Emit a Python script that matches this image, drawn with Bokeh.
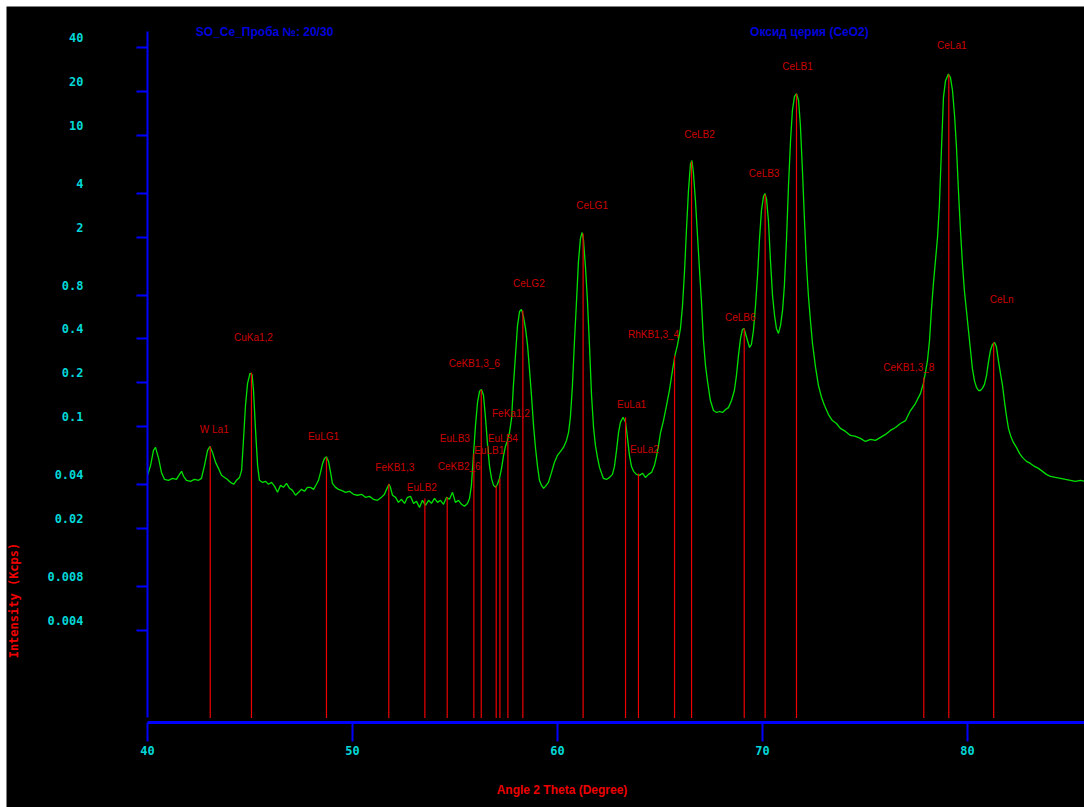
from bokeh.plotting import figure
from bokeh.models import (Range1d, FixedTicker, ColumnDataSource, LabelSet, Label,
                          CustomJSTickFormatter)
from bokeh.embed import file_html
from bokeh.resources import INLINE
from bokeh.core.properties import value

# ---------------- data ----------------
two_theta = [
    40.00, 40.15, 40.29, 40.39, 40.54, 40.68, 40.83, 41.02, 41.22, 41.41,
    41.56, 41.66, 41.76, 41.90, 42.10, 42.29, 42.49, 42.63, 42.78, 42.93,
    43.05, 43.17, 43.32, 43.46, 43.61, 43.76, 43.90, 44.05, 44.20, 44.34,
    44.49, 44.59, 44.68, 44.78, 44.88, 45.00, 45.10, 45.17, 45.27, 45.37,
    45.46, 45.61, 45.76, 45.90, 46.05, 46.20, 46.34, 46.49, 46.63, 46.78,
    46.93, 47.07, 47.22, 47.37, 47.51, 47.66, 47.80, 47.95, 48.10, 48.24,
    48.34, 48.44, 48.54, 48.63, 48.73, 48.83, 48.93, 49.02, 49.17, 49.32,
    49.46, 49.66, 49.85, 50.05, 50.24, 50.44, 50.63, 50.83, 51.02, 51.22,
    51.41, 51.56, 51.66, 51.78, 51.85, 51.95, 52.10, 52.24, 52.39, 52.54,
    52.68, 52.83, 52.98, 53.12, 53.27, 53.41, 53.56, 53.71, 53.85, 54.00,
    54.15, 54.29, 54.44, 54.59, 54.73, 54.88, 55.02, 55.17, 55.32, 55.46,
    55.61, 55.71, 55.80, 55.90, 56.00, 56.10, 56.20, 56.29, 56.39, 56.49,
    56.59, 56.68, 56.78, 56.88, 56.98, 57.07, 57.17, 57.27, 57.37, 57.46,
    57.56, 57.66, 57.76, 57.85, 57.95, 58.05, 58.15, 58.24, 58.34, 58.44,
    58.54, 58.63, 58.73, 58.83, 58.93, 59.02, 59.12, 59.22, 59.32, 59.41,
    59.56, 59.71, 59.85, 60.00, 60.15, 60.29, 60.44, 60.54, 60.63, 60.73,
    60.83, 60.93, 61.02, 61.12, 61.20, 61.27, 61.37, 61.46, 61.56, 61.66,
    61.76, 61.85, 61.95, 62.05, 62.15, 62.24, 62.39, 62.54, 62.68, 62.78,
    62.88, 62.98, 63.07, 63.20, 63.32, 63.41, 63.51, 63.61, 63.71, 63.85,
    64.00, 64.15, 64.29, 64.44, 64.59, 64.73, 64.83, 64.93, 65.02, 65.17,
    65.32, 65.46, 65.61, 65.73, 65.85, 66.00, 66.10, 66.20, 66.29, 66.39,
    66.49, 66.56, 66.63, 66.73, 66.83, 66.93, 67.02, 67.12, 67.22, 67.32,
    67.46, 67.61, 67.76, 67.90, 68.05, 68.20, 68.34, 68.49, 68.63, 68.73,
    68.83, 68.93, 69.02, 69.10, 69.17, 69.27, 69.37, 69.46, 69.56, 69.66,
    69.76, 69.85, 69.95, 70.05, 70.12, 70.20, 70.29, 70.39, 70.49, 70.59,
    70.68, 70.78, 70.88, 70.98, 71.07, 71.17, 71.27, 71.37, 71.46, 71.56,
    71.66, 71.76, 71.85, 71.95, 72.05, 72.15, 72.24, 72.34, 72.44, 72.59,
    72.73, 72.88, 73.02, 73.22, 73.41, 73.61, 73.80, 74.05, 74.29, 74.54,
    74.78, 75.02, 75.27, 75.51, 75.76, 76.00, 76.24, 76.49, 76.73, 76.98,
    77.22, 77.46, 77.71, 77.85, 77.95, 78.05, 78.15, 78.24, 78.34, 78.44,
    78.54, 78.63, 78.73, 78.83, 78.93, 79.07, 79.17, 79.27, 79.37, 79.46,
    79.56, 79.66, 79.76, 79.85, 79.95, 80.05, 80.15, 80.24, 80.34, 80.44,
    80.54, 80.63, 80.73, 80.83, 80.93, 81.02, 81.12, 81.22, 81.32, 81.41,
    81.51, 81.61, 81.71, 81.80, 81.90, 82.00, 82.10, 82.24, 82.39, 82.54,
    82.68, 82.88, 83.07, 83.27, 83.46, 83.66, 83.85, 84.05, 84.29, 84.54,
    84.78, 85.02, 85.27, 85.51, 85.75,
]
intensity_kcps = [
    0.0463, 0.0542, 0.0687, 0.0720, 0.0605, 0.0485, 0.0434, 0.0428, 0.0441, 0.0434,
    0.0470, 0.0493, 0.0456, 0.0428, 0.0421, 0.0434, 0.0428, 0.0441, 0.0542, 0.0687,
    0.0731, 0.0665, 0.0568, 0.0517, 0.0463, 0.0448, 0.0434, 0.0414, 0.0402, 0.0428,
    0.0448, 0.0501, 0.0804, 0.140, 0.198, 0.232, 0.228, 0.177, 0.0942, 0.0542,
    0.0428, 0.0414, 0.0421, 0.0402, 0.0414, 0.0389, 0.0354, 0.0395, 0.0383, 0.0408,
    0.0377, 0.0365, 0.0338, 0.0354, 0.0371, 0.0360, 0.0383, 0.0383, 0.0371, 0.0402,
    0.0428, 0.0485, 0.0559, 0.0605, 0.0620, 0.0577, 0.0485, 0.0408, 0.0383, 0.0371,
    0.0365, 0.0354, 0.0360, 0.0343, 0.0338, 0.0343, 0.0327, 0.0332, 0.0317, 0.0312,
    0.0327, 0.0343, 0.0371, 0.0402, 0.0383, 0.0338, 0.0327, 0.0302, 0.0317, 0.0297,
    0.0327, 0.0332, 0.0297, 0.0307, 0.0279, 0.0312, 0.0288, 0.0312, 0.0297, 0.0322,
    0.0302, 0.0312, 0.0293, 0.0327, 0.0317, 0.0354, 0.0302, 0.0312, 0.0293, 0.0284,
    0.0297, 0.0322, 0.0395, 0.0635, 0.102, 0.147, 0.175, 0.180, 0.164, 0.114,
    0.0743, 0.0542, 0.0441, 0.0395, 0.0383, 0.0402, 0.0441, 0.0517, 0.0635, 0.0731,
    0.0804, 0.0913, 0.114, 0.192, 0.308, 0.494, 0.617, 0.637, 0.570, 0.472,
    0.361, 0.251, 0.164, 0.102, 0.0708, 0.0542, 0.0428, 0.0395, 0.0377, 0.0389,
    0.0414, 0.0485, 0.0568, 0.0635, 0.0676, 0.0720, 0.0804, 0.0913, 0.116, 0.192,
    0.390, 0.734, 1.34, 1.96, 2.15, 1.89, 1.22, 0.734, 0.361, 0.164,
    0.0987, 0.0743, 0.0615, 0.0525, 0.0478, 0.0441, 0.0434, 0.0448, 0.0470, 0.0533,
    0.0687, 0.0913, 0.107, 0.116, 0.107, 0.0843, 0.0635, 0.0533, 0.0493, 0.0470,
    0.0463, 0.0478, 0.0448, 0.0470, 0.0485, 0.0542, 0.0625, 0.0743, 0.0898, 0.110,
    0.140, 0.177, 0.243, 0.308, 0.361, 0.472, 0.678, 1.18, 2.22, 4.17,
    6.40, 6.71, 5.55, 3.56, 2.05, 1.18, 0.734, 0.390, 0.263, 0.204,
    0.151, 0.129, 0.125, 0.127, 0.125, 0.131, 0.135, 0.151, 0.177, 0.224,
    0.308, 0.403, 0.464, 0.472, 0.436, 0.390, 0.349, 0.366, 0.457, 0.678,
    1.09, 1.89, 3.04, 3.80, 3.98, 3.62, 2.60, 1.38, 0.794, 0.579,
    0.472, 0.436, 0.494, 0.627, 0.930, 1.89, 4.52, 9.20, 14.8, 18.4,
    19.3, 17.3, 11.7, 5.73, 2.60, 1.28, 0.794, 0.535, 0.372, 0.255,
    0.192, 0.159, 0.140, 0.121, 0.110, 0.105, 0.0972, 0.0927, 0.0870, 0.0857,
    0.0830, 0.0791, 0.0817, 0.0804, 0.0843, 0.0884, 0.0942, 0.0987, 0.105, 0.110,
    0.129, 0.144, 0.169, 0.198, 0.236, 0.284, 0.390, 0.627, 0.960, 1.38,
    1.99, 3.29, 7.86, 18.2, 23.7, 26.3, 24.9, 20.3, 13.7, 8.50,
    4.17, 2.22, 1.28, 0.860, 0.627, 0.457, 0.333, 0.251, 0.207, 0.186,
    0.177, 0.177, 0.183, 0.195, 0.224, 0.275, 0.333, 0.366, 0.378, 0.355,
    0.284, 0.232, 0.192, 0.151, 0.119, 0.0972, 0.0870, 0.0779, 0.0720, 0.0655,
    0.0615, 0.0577, 0.0559, 0.0533, 0.0517, 0.0493, 0.0470, 0.0456, 0.0448, 0.0441,
    0.0434, 0.0428, 0.0421, 0.0428, 0.0421,
]

line_names = ["W La1", "CuKa1,2", "EuLG1", "FeKB1,3", "EuLB2", "CeKB2_6", "EuLB3",
              "CeKB1,3_6", "EuLB1", "EuLB4", "FeKa1,2", "CeLG2", "CeLG1", "EuLa1",
              "EuLa2", "RhKB1,3_4", "CeLB2", "CeLB6", "CeLB3", "CeLB1", "CeKB1,3_8",
              "CeLa1", "CeLn"]
line_two_theta = [43.06, 45.07, 48.73, 51.77, 53.53, 54.62, 55.92, 56.28, 57.01, 57.19,
                  57.58, 58.31, 61.25, 63.32, 63.95, 65.71, 66.54, 69.11, 70.13, 71.66,
                  77.87, 79.09, 81.28]
line_intensity = [0.0731, 0.235, 0.0617, 0.0405, 0.0321, 0.0328, 0.0654, 0.179, 0.0394,
                  0.0441, 0.0782, 0.627, 2.12, 0.116, 0.0477, 0.308, 6.60, 0.472, 3.92,
                  19.3, 0.217, 26.1, 0.378]

y_tick_values = [40, 20, 10, 4, 2, 0.8, 0.4, 0.2, 0.1, 0.04, 0.02, 0.008, 0.004]
y_tick_labels = ["40", "20", "10", "4", "2", "0.8", "0.4", "0.2", "0.1", "0.04",
                 "0.02", "0.008", "0.004"]
x_tick_values = [40, 50, 60, 70, 80]

title_left = "SO_Ce_Проба №: 20/30"
title_right = "Оксид церия (CeO2)"
x_title = "Angle 2 Theta (Degree)"
y_title = "Intensity (Kcps)"

# ---------------- styling / layout ----------------
label_dx = [4, 2, -3, 6, -3, 12, -19, -7, -7, 3, 3, 6, 9, 6, 6, -21, 8, -4, -1, 1, -15, 3, 8]
label_dy = [-17, -35, -21, -16, -11, -31, -15, -26, -35, -40, -29, -27, -28, -13, -24,
            -21, -27, -11, -21, -27, -10, -29, -43]

BLUE = "#0000ff"
CYAN = "#00d8d8"
RED = "#ee0000"
MONO = "DejaVu Sans Mono"
SANS = "Liberation Sans"

# visible window (whole black area) and the axis extents inside it
VX0, VX1 = 33.12, 85.71
VY0, VY1 = 2.43e-4, 76.5
AX_X0 = 40
AX_Y0, AX_Y1 = 9.32e-4, 51.5
LINE_BASE = 1.0e-3

p = figure(width=1084, height=807, x_range=Range1d(VX0, VX1), y_range=Range1d(VY0, VY1),
           y_axis_type="log", output_backend="svg", toolbar_location=None,
           min_border_left=6, min_border_right=0, min_border_top=6,
           min_border_bottom=0, background_fill_color="black",
           border_fill_color="white", outline_line_color=None)
p.xgrid.grid_line_color = None
p.ygrid.grid_line_color = None

xa = p.xaxis[0]
xa.fixed_location = AX_Y0
xa.bounds = (AX_X0, VX1)
xa.ticker = FixedTicker(ticks=x_tick_values, minor_ticks=[])
xa.axis_line_color = BLUE
xa.axis_line_width = 3
xa.major_tick_line_color = BLUE
xa.major_tick_line_width = 2
xa.major_tick_out = 19
xa.major_tick_in = 0
xa.minor_tick_line_color = None
xa.major_label_text_color = CYAN
xa.major_label_text_font = MONO
xa.major_label_text_font_style = "bold"
xa.major_label_text_font_size = "12px"
xa.major_label_standoff = 5

ya = p.yaxis[0]
ya.fixed_location = AX_X0
ya.bounds = (LINE_BASE, AX_Y1)
ya.ticker = FixedTicker(ticks=y_tick_values, minor_ticks=[])
ya.formatter = CustomJSTickFormatter(code="return ''")
ya.axis_line_color = BLUE
ya.axis_line_width = 2
ya.major_tick_line_color = BLUE
ya.major_tick_line_width = 2
ya.major_tick_out = 11
ya.major_tick_in = 0
ya.minor_tick_line_color = None

# spectrum
p.line(two_theta, intensity_kcps, line_color="#00e000", line_width=1.3)

# element lines
n = len(line_names)
src = ColumnDataSource(dict(x=line_two_theta, top=line_intensity, base=[LINE_BASE] * n,
                            name=line_names, dx=label_dx, dy=label_dy))
p.segment(x0="x", y0="base", x1="x", y1="top", source=src, line_color="#ee0000",
          line_width=1.2)
p.text(x="x", y="top", text="name", x_offset="dx", y_offset="dy", source=src,
       text_align="center", text_baseline="middle", text_font=value(SANS),
       text_font_size="10px", text_color="#cc0000")

# y tick labels (drawn slightly above the ticks, as in the original)
x_lab = AX_X0 - (147 - 83) / 20.5
tick_src = ColumnDataSource(dict(x=[x_lab] * len(y_tick_values), y=y_tick_values,
                                 t=y_tick_labels))
p.add_layout(LabelSet(x="x", y="y", text="t", source=tick_src, y_offset=10,
                      text_align="right", text_baseline="middle", text_color=CYAN,
                      text_font=value(MONO), text_font_style="bold",
                      text_font_size="12px"))

# titles
p.add_layout(Label(x=45.71, y=AX_Y1, text=title_left, text_align="center",
                   text_baseline="middle", text_color="#0000dd", text_font=SANS,
                   text_font_style="bold", text_font_size="12px"))
p.add_layout(Label(x=72.29, y=AX_Y1, text=title_right, text_align="center",
                   text_baseline="middle", text_color="#0000dd", text_font=SANS,
                   text_font_style="bold", text_font_size="12px"))
# axis titles
p.add_layout(Label(x=60.22, y=3.18e-4, text=x_title, text_align="center",
                   text_baseline="middle", text_color=RED, text_font=SANS,
                   text_font_style="bold", text_font_size="12px"))
p.add_layout(Label(x=33.51, y=0.0064, text=y_title, angle=1.5708, text_align="center",
                   text_baseline="middle", text_color=RED, text_font=MONO,
                   text_font_style="bold", text_font_size="12px"))

open("out.html", "w").write(file_html(p, INLINE))
